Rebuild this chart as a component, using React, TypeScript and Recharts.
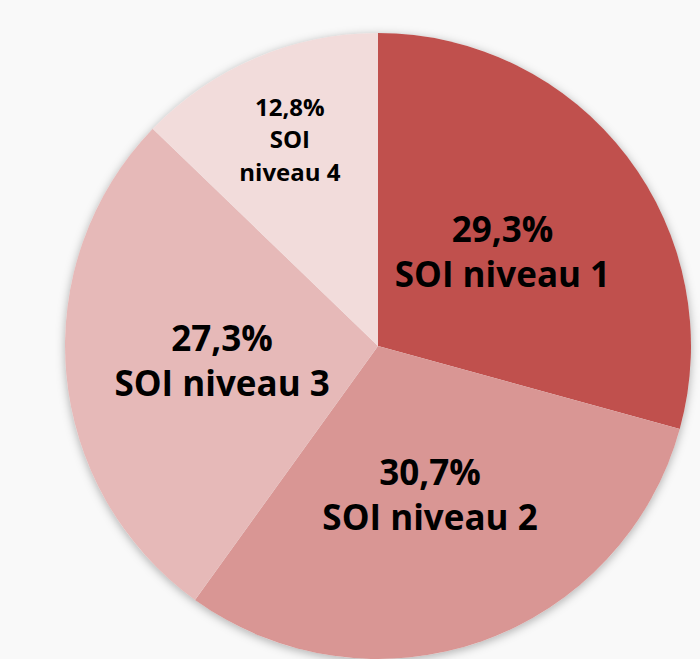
import React from 'react';
import { PieChart, Pie, Cell } from 'recharts';

// SOI-niveaus, met de klok mee vanaf 12 uur
const levels = ['SOI niveau 1', 'SOI niveau 2', 'SOI niveau 3', 'SOI niveau 4'];
const shares = [29.3, 30.7, 27.3, 12.8];
const colors = ['#C0504D', '#D99694', '#E6B9B8', '#F2DCDB'];

const data = levels.map((name, i) => ({ name, value: shares[i] }));
const backdrop = [{ name: 'schaduw', value: 1 }];

const RAD = Math.PI / 180;
const FONT = '"Open Sans", Lato, sans-serif';

const fmt = (v: number) => v.toFixed(1).replace('.', ',') + '%';

const renderLabel = (props: any) => {
  const { cx, cy, midAngle, outerRadius, value, name } = props;
  const small = value < 15;
  // kleine taartpunt: label verder naar buiten, op drie regels
  const r = outerRadius * (small ? 0.72 : 0.5);
  const x = cx + r * Math.cos(-midAngle * RAD);
  const y = cy + r * Math.sin(-midAngle * RAD);

  if (small) {
    const [first, ...rest] = String(name).split(' ');
    return (
      <text x={x} textAnchor="middle" fill="#000" fontFamily={FONT} fontWeight={700} fontSize={24}>
        <tspan x={x} y={y - 23}>{fmt(value)}</tspan>
        <tspan x={x} y={y + 9}>{first}</tspan>
        <tspan x={x} y={y + 42}>{rest.join(' ')}</tspan>
      </text>
    );
  }

  return (
    <text x={x} textAnchor="middle" fill="#000" fontFamily={FONT} fontWeight={700} fontSize={35}>
      <tspan x={x} y={y - 9}>{fmt(value)}</tspan>
      <tspan x={x} y={y + 36}>{name}</tspan>
    </text>
  );
};

export default function App() {
  return (
    <div style={{ position: 'absolute', left: 0, top: 0, width: 700, height: 659, background: '#f9f9f9', overflow: 'hidden' }}>
      <style>{`.pie-shadow .recharts-sector { filter: drop-shadow(0 2px 5px rgba(0,0,0,0.3)); }`}</style>
      <PieChart width={700} height={659} margin={{ top: 0, right: 0, bottom: 0, left: 0 }}>
        <Pie
          className="pie-shadow"
          data={backdrop}
          dataKey="value"
          cx={378}
          cy={346}
          outerRadius={313}
          startAngle={90}
          endAngle={-270}
          fill="#f2f2f2"
          stroke="none"
          isAnimationActive={false}
        />
        <Pie
          data={data}
          dataKey="value"
          nameKey="name"
          cx={378}
          cy={346}
          outerRadius={313}
          startAngle={90}
          endAngle={-270}
          stroke="none"
          label={renderLabel}
          labelLine={false}
          isAnimationActive={false}
        >
          {data.map((d, i) => (
            <Cell key={d.name} fill={colors[i]} />
          ))}
        </Pie>
      </PieChart>
    </div>
  );
}
